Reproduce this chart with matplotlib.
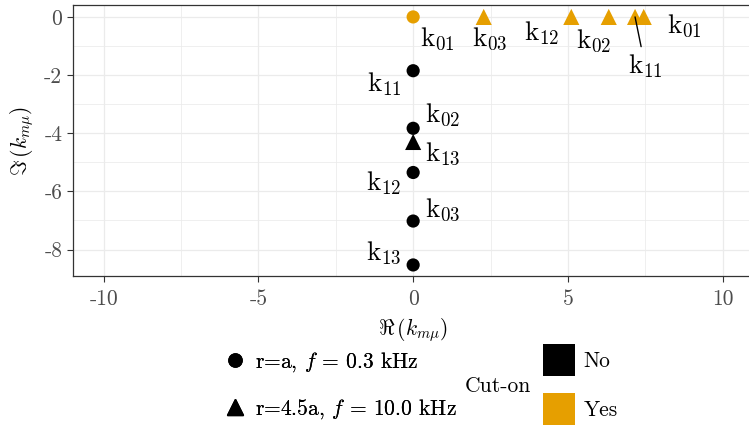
import matplotlib
matplotlib.use("Agg")
import matplotlib.pyplot as plt
from matplotlib.lines import Line2D

plt.rcParams["font.family"] = ["cmr10", "DejaVu Sans"]
plt.rcParams["mathtext.fontset"] = "cm"
plt.rcParams["axes.unicode_minus"] = False

# Axial wavenumbers k_{m mu} in the complex plane
# r = a, f = 0.3 kHz
modes_a = ["01", "11", "02", "12", "03", "13"]
re_a = [0.0, 0.0, 0.0, 0.0, 0.0, 0.0]
im_a = [0.0, -1.85, -3.83, -5.35, -7.02, -8.53]
cuton_a = ["Yes", "No", "No", "No", "No", "No"]

# r = 4.5a, f = 10.0 kHz
modes_b = ["03", "12", "02", "11", "01", "13"]
re_b = [2.28, 5.11, 6.32, 7.17, 7.45, 0.0]
im_b = [0.0, 0.0, 0.0, 0.0, 0.0, -4.30]
cuton_b = ["Yes", "Yes", "Yes", "Yes", "Yes", "No"]

group_labels = [r"r=a, $f$ = 0.3 kHz", r"r=4.5a, $f$ = 10.0 kHz"]
cuton_levels = ["No", "Yes"]
x_ticks = [-10, -5, 0, 5, 10]
x_ticklabels = ["-10", "-5", "0", "5", "10"]
y_ticks = [0, -2, -4, -6, -8]
y_ticklabels = ["0", "-2", "-4", "-6", "-8"]

# label offsets (pixels) relative to each point
offs_a = [(24, -22), (-29, -13), (30, 14), (-29, -11), (30, 11), (-29, 12)]
offs_b = [(6, -22), (-30, -16), (-15, -24), (10, -49), (41, -9), (30, -12)]

palette = {"No": "#000000", "Yes": "#E69F00"}
grid_col = "#EBEBEB"
base_fs = 15.5
label_fs = 19.5

W, H = 749, 428
fig = plt.figure(figsize=(W / 100, H / 100), dpi=100)
left, right, top, bottom = 72.7, 753.6, 5.3, 276.0
ax = fig.add_axes([left / W, 1 - bottom / H, (right - left) / W, (bottom - top) / H])
ax.set_xlim(-11, 11)
ax.set_ylim(-8.91, 0.40)

ax.set_xticks(x_ticks)
ax.set_xticklabels(x_ticklabels)
ax.set_yticks(y_ticks)
ax.set_yticklabels(y_ticklabels)
ax.set_xticks([-7.5, -2.5, 2.5, 7.5], minor=True)
ax.set_yticks([-1, -3, -5, -7], minor=True)
ax.grid(True, which="major", color=grid_col, lw=0.9, zorder=0)
ax.grid(True, which="minor", color=grid_col, lw=0.55, zorder=0)
ax.set_axisbelow(True)
ax.tick_params(which="major", length=4.5, width=0.8, color="#333333",
               labelcolor="#4D4D4D", labelsize=base_fs)
ax.tick_params(axis="x", which="major", pad=5)
ax.tick_params(axis="y", which="major", pad=3)
ax.tick_params(which="minor", length=0)
for s in ax.spines.values():
    s.set_color("#333333")
    s.set_linewidth(0.9)
ax.spines["right"].set_visible(False)

ax.scatter(re_a, im_a, c=[palette[c] for c in cuton_a], marker="o", s=90,
           linewidths=0, zorder=3)
ax.scatter(re_b, im_b, c=[palette[c] for c in cuton_b], marker="^", s=135,
           linewidths=0, zorder=3)

for modes, xs, ys, offs in ((modes_a, re_a, im_a, offs_a), (modes_b, re_b, im_b, offs_b)):
    for m, x, y, (dx, dy) in zip(modes, xs, ys, offs):
        long = (dx * dx + dy * dy) ** 0.5 > 45
        ax.annotate(r"k$_{%s}$" % m, (x, y), xytext=(dx, dy),
                    textcoords="offset pixels", ha="center", va="center",
                    fontsize=label_fs, color="black", zorder=4,
                    arrowprops=dict(arrowstyle="-", color="black", lw=1.0,
                                    shrinkA=2, shrinkB=0) if long else None)

ax.set_xlabel(r"$\Re\,(k_{m\mu})$", fontsize=base_fs, labelpad=5)
ax.set_ylabel(r"$\Im\,(k_{m\mu})$", fontsize=base_fs, labelpad=6)

shape_handles = [Line2D([], [], ls="", marker="o", color="black", ms=9.5),
                 Line2D([], [], ls="", marker="^", color="black", ms=11.5)]
leg1 = fig.legend(shape_handles, group_labels, loc="center left",
                  bbox_to_anchor=(224 / W, 1 - 385.5 / H), frameon=False,
                  fontsize=base_fs, handlelength=1.0, handletextpad=0.45,
                  labelspacing=1.1, borderpad=0, borderaxespad=0)
fig.add_artist(leg1)

color_handles = [Line2D([], [], ls="", marker="s", color=palette[c], ms=22.5,
                        markeredgewidth=0) for c in cuton_levels]
leg2 = fig.legend(color_handles, cuton_levels, loc="center left",
                  bbox_to_anchor=(543 / W, 1 - 386 / H), frameon=False,
                  fontsize=base_fs, handlelength=1.45, handletextpad=0.42,
                  labelspacing=1.35, borderpad=0, borderaxespad=0)
fig.text(465 / W, 1 - 386 / H, "Cut-on", fontsize=base_fs, ha="left", va="center")

fig.savefig("out.png", dpi=100)
